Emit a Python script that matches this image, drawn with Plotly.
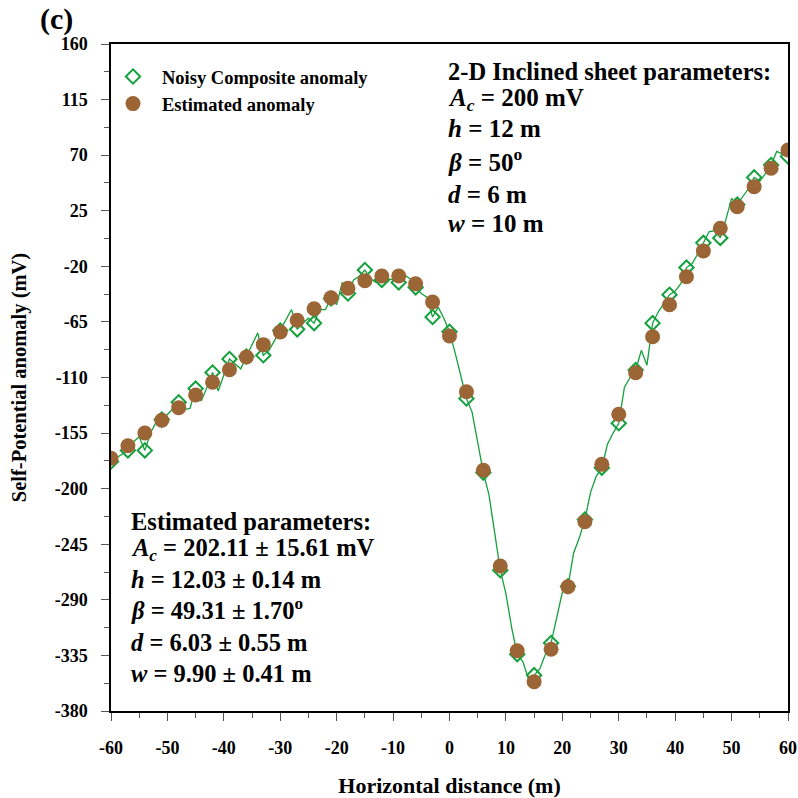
import plotly.graph_objects as go

# ---- data ----
x_noisy = list(range(-60, 61))
y_noisy = [
    -178, -175, -172, -169, -162, -158, -169, -155, -146, -144,   # -60..-51
    -140, -135, -130, -136, -135, -119, -129, -118, -106, -121,   # -50..-41
    -108, -95, -99, -103, -93, -84, -74, -92, -88, -80,           # -40..-31
    -72, -63, -55, -71, -66, -62, -66, -55, -55, -46,             # -30..-21
    -51, -33, -42, -31, -28, -23, -30, -33, -31, -30,             # -20..-11
    -31, -33, -27, -30, -37, -42, -45, -61, -53, -62,             # -10..-1
    -73,                                                          # 0
    -90, -108, -127, -138, -163, -187, -205, -237, -266, -285,    # 1..10
    -312, -334, -340, -354, -351, -346, -334, -325, -305, -284,   # 11..20
    -279, -252, -240, -225, -203, -190, -183, -164, -155, -147,   # 21..30
    -118, -110, -104, -88, -100, -66, -57, -50, -43, -40,         # 31..40
    -34, -21, -18, -10, -1, 8, 9, 3, 18, 35,                      # 41..50
    30, 37, 43, 52, 49, 55, 62, 73, 71, 69,                       # 51..60
]
x_est = list(range(-60, 61, 3))
y_est = [
    -175.4, -165.2, -154.9, -144.6, -134.4, -124.2, -113.9, -103.7, -93.4, -83.4,
    -73.2, -63.7, -54.3, -45.4, -37.8, -31.6, -27.8, -27.8, -34.1, -48.9,
    -76.4, -121.5, -185.1, -262.6, -331.2, -356.3, -330.0, -279.4, -226.7, -180.3,
    -139.8, -106.1, -77.0, -51.1, -28.4, -7.5, 10.8, 28.3, 44.5, 59.4, 74.2,
]
x_diam = x_noisy[::3]
y_diam = y_noisy[::3]

x_ticks = list(range(-60, 61, 10))
y_ticks = list(range(-380, 161, 45))

true_lines = ["2-D Inclined sheet parameters:",
              "<i>A</i><sub><i>c</i></sub> = 200 mV",
              "<i>h</i> = 12 m",
              "<i>β</i> = 50<sup>o</sup>",
              "<i>d</i> = 6 m",
              "<i>w</i> = 10 m"]
est_lines = ["Estimated parameters:",
             "<i>A</i><sub><i>c</i></sub> = 202.11 ± 15.61 mV",
             "<i>h</i> = 12.03 ± 0.14 m",
             "<i>β</i> = 49.31 ± 1.70<sup>o</sup>",
             "<i>d</i> = 6.03 ± 0.55 m",
             "<i>w</i> = 9.90 ± 0.41 m"]

GREEN = "#14a03c"
BROWN = "#9b6535"
FONT = "Liberation Serif"

fig = go.Figure()
fig.add_trace(go.Scatter(x=x_noisy, y=y_noisy, mode="lines",
                         line=dict(color=GREEN, width=1.3), showlegend=False,
                         hoverinfo="skip"))
fig.add_trace(go.Scatter(x=x_diam, y=y_diam, mode="markers",
                         name="Noisy Composite anomaly",
                         marker=dict(symbol="diamond-open", size=11, color=GREEN,
                                     line=dict(width=2, color=GREEN))))
fig.add_trace(go.Scatter(x=x_est, y=y_est, mode="markers",
                         name="Estimated anomaly",
                         marker=dict(symbol="circle", size=15, color=BROWN,
                                     line=dict(width=0))))

L, R, T, B = 111, 788, 44, 711
W, H = R - L, B - T


def px(xp):
    return (xp - L) / W


def py(yp):
    return (B - yp) / H


true_y = [71, 100, 129, 160, 194, 224]
est_y = [521, 549, 579, 609, 642, 673]

annotations = []
for i, (t, yy) in enumerate(zip(true_lines, true_y)):
    annotations.append(dict(text=t, x=px(446), y=py(yy),
                            xref="paper", yref="paper", xanchor="left", yanchor="middle",
                            showarrow=False,
                            font=dict(family=FONT, size=24.5 if i == 0 else 25,
                                      color="black", weight="bold")))
for t, yy in zip(est_lines, est_y):
    annotations.append(dict(text=t, x=px(129), y=py(yy),
                            xref="paper", yref="paper", xanchor="left", yanchor="middle",
                            showarrow=False,
                            font=dict(family=FONT, size=24.5, color="black", weight="bold")))
annotations.append(dict(text="(c)", x=px(38), y=py(19), xref="paper", yref="paper",
                        xanchor="left", yanchor="middle", showarrow=False,
                        font=dict(family=FONT, size=30, color="black", weight="bold")))

fig.update_layout(
    width=798, height=798,
    margin=dict(l=L, r=798 - R, t=T, b=798 - B),
    paper_bgcolor="white", plot_bgcolor="white",
    font=dict(family=FONT, color="black"),
    showlegend=True,
    legend=dict(x=px(104), y=py(58), xanchor="left", yanchor="top",
                bgcolor="rgba(0,0,0,0)", itemwidth=48, tracegroupgap=0,
                font=dict(family=FONT, size=18.5, color="black", weight="bold")),
    annotations=annotations,
)
fig.update_xaxes(range=[-60, 60], tickvals=x_ticks, ticktext=[str(v) for v in x_ticks],
                 automargin=False, showgrid=False, zeroline=False,
                 showline=True, linecolor="black", linewidth=1.5, mirror=True,
                 ticks="outside", ticklen=8, tickwidth=1.2, tickcolor="#555",
                 ticklabelstandoff=12,
                 minor=dict(dtick=5, tick0=-60, ticks="outside", ticklen=5, tickcolor="#555", tickwidth=1),
                 tickfont=dict(family=FONT, size=18, weight="bold"),
                 title=dict(text="Horizontal distance (m)", standoff=20,
                            font=dict(family=FONT, size=22, weight="bold")))
fig.update_yaxes(range=[-380, 160], tickvals=y_ticks, ticktext=[str(v) for v in y_ticks],
                 automargin=False, showgrid=False, zeroline=False,
                 showline=True, linecolor="black", linewidth=1.5, mirror=True,
                 ticks="outside", ticklen=8, tickwidth=1.2, tickcolor="#555",
                 ticklabelstandoff=10,
                 minor=dict(dtick=22.5, tick0=-380, ticks="outside", ticklen=5, tickcolor="#555", tickwidth=1),
                 tickfont=dict(family=FONT, size=18, weight="bold"),
                 title=dict(text="Self-Potential anomaly (mV)", standoff=22,
                            font=dict(family=FONT, size=20.5, weight="bold")))

fig.write_html("out.html")
